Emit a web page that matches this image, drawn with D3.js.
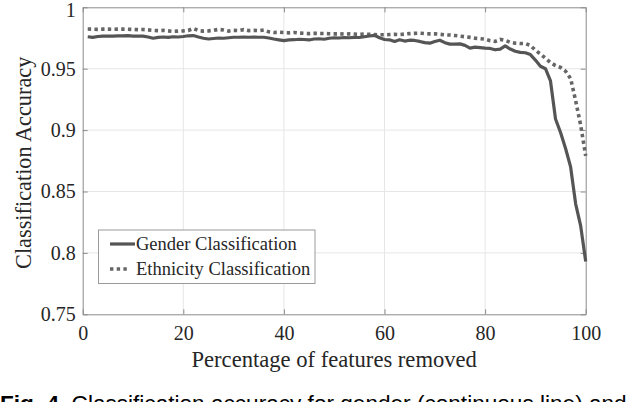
<!DOCTYPE html>
<html>
<head>
<meta charset="utf-8">
<script src="https://cdn.jsdelivr.net/npm/d3@7"></script>
<style>
  html, body { margin: 0; padding: 0; background: #fff; overflow: hidden; }
  svg { display: block; }
</style>
</head>
<body>
<svg id="chart" width="634" height="402"></svg>
<script>
// ---- data ----
const percentRemoved = [
  1,2,3,4,5,6,7,8,9,10,11,12,13,14,15,16,17,18,19,20,
  21,22,23,24,25,26,27,28,29,30,31,32,33,34,35,36,37,38,39,40,
  41,42,43,44,45,46,47,48,49,50,51,52,53,54,55,56,57,58,59,60,
  61,62,63,64,65,66,67,68,69,70,71,72,73,74,75,76,77,78,79,80,
  81,82,83,84,85,86,87,88,89,90,91,92,93,94,95,96,97,98,99,100
];
const genderAccuracy = [
  0.9760,0.9755,0.9762,0.9765,0.9765,0.9766,0.9768,0.9768,0.9770,0.9766,
  0.9766,0.9765,0.9758,0.9748,0.9755,0.9758,0.9755,0.9760,0.9758,0.9762,
  0.9768,0.9770,0.9758,0.9748,0.9742,0.9746,0.9750,0.9748,0.9752,0.9756,
  0.9756,0.9758,0.9756,0.9757,0.9756,0.9756,0.9750,0.9742,0.9735,0.9728,
  0.9735,0.9736,0.9740,0.9738,0.9734,0.9742,0.9744,0.9740,0.9748,0.9752,
  0.9750,0.9754,0.9752,0.9755,0.9754,0.9760,0.9766,0.9772,0.9752,0.9738,
  0.9735,0.9722,0.9736,0.9725,0.9732,0.9730,0.9722,0.9712,0.9708,0.9722,
  0.9732,0.9712,0.9700,0.9700,0.9702,0.9690,0.9668,0.9676,0.9672,0.9668,
  0.9665,0.9654,0.9660,0.9686,0.9660,0.9642,0.9633,0.9630,0.9615,0.9570,
  0.9520,0.9500,0.9400,0.9090,0.8980,0.8850,0.8700,0.8400,0.8220,0.7930
];
const ethnicityAccuracy = [
  0.9823,0.9822,0.9820,0.9822,0.9822,0.9821,0.9822,0.9822,0.9821,0.9820,
  0.9818,0.9819,0.9816,0.9812,0.9810,0.9812,0.9808,0.9804,0.9806,0.9808,
  0.9812,0.9828,0.9810,0.9806,0.9808,0.9812,0.9820,0.9815,0.9806,0.9812,
  0.9810,0.9818,0.9810,0.9812,0.9810,0.9815,0.9800,0.9795,0.9797,0.9794,
  0.9792,0.9795,0.9790,0.9788,0.9786,0.9788,0.9787,0.9786,0.9785,0.9784,
  0.9784,0.9782,0.9784,0.9782,0.9780,0.9782,0.9780,0.9778,0.9776,0.9776,
  0.9778,0.9780,0.9778,0.9782,0.9786,0.9788,0.9790,0.9786,0.9784,0.9784,
  0.9780,0.9776,0.9774,0.9770,0.9765,0.9760,0.9755,0.9748,0.9745,0.9740,
  0.9728,0.9722,0.9738,0.9730,0.9715,0.9708,0.9705,0.9705,0.9690,0.9650,
  0.9620,0.9585,0.9550,0.9525,0.9510,0.9480,0.9420,0.9240,0.9040,0.8790
];
const seriesNames = ["Gender Classification", "Ethnicity Classification"];
const xTicks = [0, 20, 40, 60, 80, 100];
const yTicks = [0.75, 0.8, 0.85, 0.9, 0.95, 1];
const xLabel = "Percentage of features removed";
const yLabel = "Classification Accuracy";
const captionBold = "Fig. 4.";
const captionRest = " Classification accuracy for gender (continuous line) and";

// ---- layout ----
const L = 82.7, R = 585.7, T = 7.3, B = 314.3;
const serif = "'Liberation Serif','Times New Roman',serif";
const axisColor = "#8c8c8c";
const gridColor = "#e6e6e6";
const textColor = "#262626";
const lineColor = "#555555";

const svg = d3.select("#chart");
const x = d3.scaleLinear().domain([0, 100]).range([L, R]);
const y = d3.scaleLinear().domain([0.75, 1]).range([B, T]);

// grid
const grid = svg.append("g");
grid.selectAll("line.gx").data(xTicks.slice(1, -1)).join("line")
  .attr("x1", d => x(d)).attr("x2", d => x(d))
  .attr("y1", T).attr("y2", B)
  .attr("stroke", gridColor).attr("stroke-width", 1);
grid.selectAll("line.gy").data(yTicks.slice(1, -1)).join("line")
  .attr("y1", d => y(d)).attr("y2", d => y(d))
  .attr("x1", L).attr("x2", R)
  .attr("stroke", gridColor).attr("stroke-width", 1);

// axes (MATLAB style: inward ticks on all four sides)
function styleAxis(g) {
  g.select(".domain").attr("stroke", axisColor).attr("stroke-width", 1);
  g.selectAll(".tick line").attr("stroke", axisColor).attr("stroke-width", 1);
  g.selectAll(".tick text").attr("fill", textColor)
    .style("font-family", serif).style("font-size", "20px");
}
const xAxis = svg.append("g").attr("transform", `translate(0,${B})`)
  .call(d3.axisBottom(x).tickValues(xTicks).tickFormat(d => String(d))
    .tickSizeInner(-5).tickSizeOuter(0).tickPadding(11.5));
styleAxis(xAxis);
xAxis.selectAll(".tick text").attr("y", 11.5);
const xAxisTop = svg.append("g").attr("transform", `translate(0,${T})`)
  .call(d3.axisTop(x).tickValues(xTicks).tickFormat("").tickSizeInner(-5).tickSizeOuter(0));
styleAxis(xAxisTop);
const yAxis = svg.append("g").attr("transform", `translate(${L},0)`)
  .call(d3.axisLeft(y).tickValues(yTicks).tickFormat(d => String(d))
    .tickSizeInner(-5).tickSizeOuter(0).tickPadding(7));
styleAxis(yAxis);
yAxis.selectAll(".tick text").attr("x", -7)
  .attr("dy", d => d === 1 ? "0.45em" : "0.32em");
const yAxisRight = svg.append("g").attr("transform", `translate(${R},0)`)
  .call(d3.axisRight(y).tickValues(yTicks).tickFormat("").tickSizeInner(-5).tickSizeOuter(0));
styleAxis(yAxisRight);

// lines
const line = d3.line().x(d => x(d[0])).y(d => y(d[1]));
const genderData = percentRemoved.map((p, i) => [p, genderAccuracy[i]]);
const ethData = percentRemoved.map((p, i) => [p, ethnicityAccuracy[i]]);

svg.append("path").datum(ethData)
  .attr("d", line).attr("fill", "none")
  .attr("stroke", "#666666").attr("stroke-width", 3.6)
  .attr("stroke-dasharray", "3.4,3.3");
svg.append("path").datum(genderData)
  .attr("d", line).attr("fill", "none")
  .attr("stroke", lineColor).attr("stroke-width", 3.2)
  .attr("stroke-linejoin", "round");

// axis labels
svg.append("text")
  .attr("x", (L + R) / 2).attr("y", 367)
  .attr("text-anchor", "middle").attr("fill", textColor)
  .style("font-family", serif).style("font-size", "22.6px")
  .text(xLabel);
svg.append("text")
  .attr("transform", `translate(31,${(T + B) / 2 + 2}) rotate(-90)`)
  .attr("text-anchor", "middle").attr("fill", textColor)
  .style("font-family", serif).style("font-size", "22.3px")
  .text(yLabel);

// legend
const lg = svg.append("g");
lg.append("rect")
  .attr("x", 98.5).attr("y", 230).attr("width", 216.5).attr("height", 53.5)
  .attr("fill", "#fff").attr("stroke", "#9a9a9a").attr("stroke-width", 1);
const legendItems = [
  { name: seriesNames[0], dash: null, color: lineColor, w: 3.2, yl: 244, yt: 250 },
  { name: seriesNames[1], dash: "3.4,3.3", color: "#666666", w: 3.6, yl: 269, yt: 275 }
];
legendItems.forEach(it => {
  lg.append("line")
    .attr("x1", 110).attr("x2", it.dash ? 127 : 135)
    .attr("y1", it.yl).attr("y2", it.yl)
    .attr("stroke", it.color).attr("stroke-width", it.w)
    .attr("stroke-dasharray", it.dash);
  lg.append("text")
    .attr("x", 136).attr("y", it.yt).attr("fill", textColor)
    .style("font-family", serif).style("font-size", "18.5px")
    .text(it.name);
});

// caption (cut at bottom edge, as in the reference)
const cap = svg.append("text")
  .attr("x", 0).attr("y", 411).attr("fill", "#000")
  .style("font-family", "'Liberation Sans',Arial,Helvetica,sans-serif")
  .style("font-size", "22.6px");
cap.append("tspan").style("font-weight", "bold").text(captionBold);
cap.append("tspan").text(captionRest);
</script>
</body>
</html>
